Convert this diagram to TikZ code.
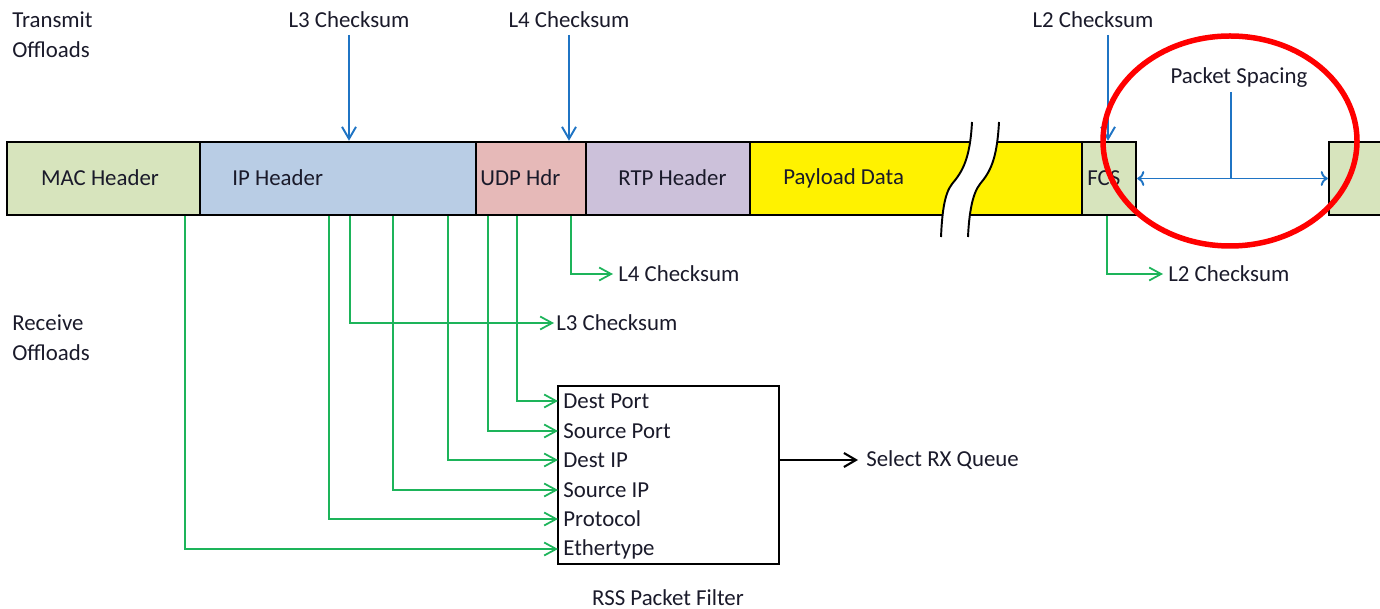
\documentclass[tikz,border=0pt]{standalone}
\usepackage{fontspec}
\setmainfont{Carlito}
\usepackage{tikz}
\usetikzlibrary{arrows.meta,fit}

\definecolor{macgreen}{HTML}{D7E4BD}
\definecolor{ipblue}{HTML}{B9CDE5}
\definecolor{udppink}{HTML}{E6B9B8}
\definecolor{rtpviolet}{HTML}{CCC1DA}
\definecolor{txblue}{HTML}{1F74C4}
\definecolor{rxgreen}{HTML}{1DB45A}
\definecolor{txtcol}{HTML}{1A1A2A}

\tikzset{
  seg/.style={draw=black,line width=1.4pt,inner sep=0pt},
  lbl/.style={inner sep=0pt,text=txtcol,font=\fontsize{13}{17}\selectfont},
  field/.style={lbl,anchor=west,inner xsep=1mm},
  tx/.style={txblue,line width=1.1pt,-{Straight Barb[length=2.4mm,width=2.8mm]}},
  rx/.style={rxgreen,line width=1pt,-{Straight Barb[length=2.4mm,width=2.6mm]}},
}

\begin{document}
\begin{tikzpicture}[x=0.2mm,y=-0.2mm]
\clip (0,0) rectangle (1380,609);

% packet fields
\node[seg,fill=macgreen,fit={(7,142) (200,215)}] (mac) {};
\node[seg,fill=ipblue,fit={(200,142) (476,215)}] (ip) {};
\node[seg,fill=udppink,fit={(476,142) (586,215)}] (udp) {};
\node[seg,fill=rtpviolet,fit={(586,142) (750,215)}] (rtp) {};
\node[seg,fill=yellow,fit={(750,142) (1082,215)}] (payload) {};
\node[seg,fill=macgreen,fit={(1082,142) (1136,215)}] (fcs) {};
\node[seg,fill=macgreen,fit={(1329,142) (1400,215)}] (next) {};

% break in the payload
\fill[white] (972,122) .. controls (970,160) and (962,172) .. (952,184)
  .. controls (944,194) and (942,215) .. (941,237)
  -- (968,237) .. controls (969,215) and (972,194) .. (980,184)
  .. controls (990,172) and (997,160) .. (999,122) -- cycle;
\draw[line width=1.1pt] (972,122) .. controls (970,160) and (962,172) .. (952,184)
  .. controls (944,194) and (942,215) .. (941,237);
\draw[line width=1.1pt] (999,122) .. controls (997,160) and (990,172) .. (980,184)
  .. controls (972,194) and (969,215) .. (968,237);

\node[lbl] (maclbl) at (100,178) {MAC Header};
\node[lbl,anchor=west] (iplbl) at (232,178) {IP Header};
\node[lbl,anchor=west] (udplbl) at (480,178) {UDP Hdr};
\node[lbl,anchor=west] (rtplbl) at (618,178) {RTP Header};
\node[lbl,anchor=west] (paylbl) at (783,178) {Payload Data};
\node[lbl,anchor=west] (fcslbl) at (1087,178) {FCS};

% transmit side
\node[lbl,anchor=west,align=left] (txhead) at (12,35) {Transmit\\Offloads};
\node[lbl] (l3tx) at (349,20) {L3 Checksum};
\node[lbl] (l4tx) at (569,20) {L4 Checksum};
\node[lbl] (l2tx) at (1093,20) {L2 Checksum};
\draw[tx] (l3tx.south |- 0,35) -- (l3tx.south |- ip.north);
\draw[tx] (l4tx.south |- 0,35) -- (l4tx.south |- udp.north);
\coordinate (l2tap) at (1108,35);
\draw[tx] (l2tap) -- (l2tap |- fcs.north);

\node[lbl] (gap) at (1239,78) {Packet Spacing};
\coordinate (gapstem) at (1231,92);
\draw[tx,<->] (fcs.east) -- (next.west);
\draw[txblue,line width=1.1pt] (gapstem) -- (gapstem |- fcs.east);
\draw[red,line width=1.1mm] (1230,141) ellipse [x radius=127, y radius=105];

% receive side
\node[lbl,anchor=west,align=left] (rxhead) at (12,338) {Receive\\Offloads};
\node[lbl,anchor=west] (l4rx) at (618,274) {L4 Checksum};
\node[lbl,anchor=west] (l3rx) at (556,323) {L3 Checksum};
\node[lbl,anchor=west] (l2rx) at (1168,274) {L2 Checksum};
\coordinate (l4tap) at (571,0);
\coordinate (l3tap) at (350,0);
\coordinate (l2rxtap) at (1107,0);
\draw[rx] (udp.south -| l4tap) |- ([xshift=-1mm]l4rx.west);
\draw[rx] (ip.south -| l3tap) |- ([xshift=-0.4mm]l3rx.west);
\draw[rx] (fcs.south -| l2rxtap) |- ([xshift=-1mm]l2rx.west);

\foreach \name/\txt/\y in {dport/Dest Port/401,sport/Source Port/431,dip/Dest IP/460,
    sip/Source IP/490,proto/Protocol/519,ether/Ethertype/549}
  \node[field] (\name) at (558,\y) {\txt};
\node[draw,line width=1.4pt,inner sep=0pt,fit={(558,386) (779,564)}] (rss) {};
\node[lbl] (rsslbl) at (668,598) {RSS Packet Filter};

\foreach \x/\src/\dst in {185/mac/ether,329/ip/proto,393/ip/sip,448/ip/dip,488/udp/sport,517/udp/dport}{
  \coordinate (tap) at (\x,0);
  \draw[rx] (\src.south -| tap) |- (\dst.west);
}

\node[lbl,anchor=west] (queue) at (866,460) {Select RX Queue};
\draw[line width=1.2pt,-{Straight Barb[length=2.4mm,width=2.8mm]}] (rss.east |- dip) -- ([xshift=-1.6mm]queue.west);
\end{tikzpicture}
\end{document}
